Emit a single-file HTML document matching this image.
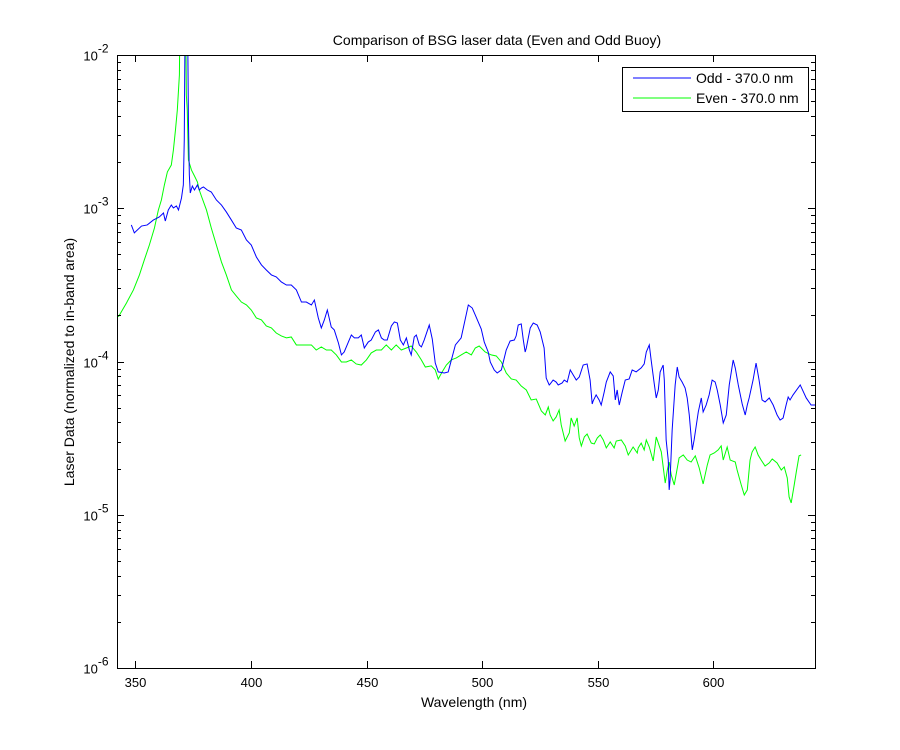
<!DOCTYPE html>
<html><head><meta charset="utf-8"><style>
html,body{margin:0;padding:0;background:#fff;}
svg{display:block;font-family:"Liberation Sans",Arial,sans-serif;}
</style></head><body>
<svg id="chart" width="900" height="750" viewBox="0 0 900 750" xmlns="http://www.w3.org/2000/svg">
<rect x="0" y="0" width="900" height="750" fill="#fff"/>
<text x="497" y="45" font-size="14" text-anchor="middle">Comparison of BSG laser data (Even and Odd Buoy)</text>
<text x="474" y="707" font-size="14" text-anchor="middle">Wavelength (nm)</text>
<text x="0" y="0" font-size="14" text-anchor="middle" transform="translate(74,362) rotate(-90)">Laser Data (normalized to in-band area)</text>
<defs><clipPath id="plotclip"><rect x="117" y="55" width="698" height="613"/></clipPath></defs>
<g id="series" clip-path="url(#plotclip)"></g>
<g id="axes"></g>
<g>
<rect x="622.5" y="67.5" width="186" height="44" fill="#fff" stroke="#000" stroke-width="1"/>
<line x1="633" y1="78" x2="691" y2="78" stroke="#0000ff" stroke-width="1"/>
<text x="696" y="83" font-size="14">Odd - 370.0 nm</text>
<line x1="633" y1="98" x2="691" y2="98" stroke="#00ff00" stroke-width="1"/>
<text x="696" y="103" font-size="14">Even - 370.0 nm</text>
</g>
</svg>
<script>
const xTicks = [350, 400, 450, 500, 550, 600];
const yDecades = [-6, -5, -4, -3, -2];
const oddWavelength = [348.2,349.5,352.6,355.1,357.7,360.3,362.1,362.9,364.2,365.5,366.4,367.7,368.6,369.9,370.7,371.1,371.6,372.4,372.9,373.3,373.7,374.6,375.5,376.8,377.6,378.5,379.4,381.1,382.8,385.0,387.2,389.3,391.5,393.6,395.8,398.0,400.1,402.3,404.5,406.6,408.8,410.9,413.1,415.3,417.4,419.6,421.8,423.9,426.1,427.4,429.1,430.4,431.7,433.0,434.7,436.0,437.8,439.1,440.3,442.1,443.4,444.7,446.4,447.7,449.0,450.7,452.0,453.8,455.1,456.4,457.6,458.9,460.7,462.0,463.3,464.6,465.9,467.2,468.5,469.3,470.6,471.5,472.8,473.7,474.9,477.1,478.4,479.7,481.0,483.6,485.3,488.4,490.9,494.0,495.7,497.0,499.6,500.9,502.6,503.5,505.2,506.5,508.3,510.4,512.1,513.9,514.7,515.6,516.9,517.8,518.6,519.1,520.8,522.1,523.8,525.1,526.8,527.7,529.0,529.4,530.7,532.0,532.9,534.6,535.5,536.8,538.1,539.4,540.7,542.0,543.7,545.4,546.7,547.6,548.0,549.3,550.6,551.5,552.8,553.7,555.4,556.7,557.6,558.4,559.3,560.6,561.9,563.6,564.9,566.6,568.8,570.1,571.0,572.3,573.1,574.4,575.3,576.2,577.0,578.3,578.8,579.6,580.5,580.9,581.3,582.2,583.5,584.4,585.2,586.5,587.8,588.7,589.6,590.9,591.7,593.5,594.8,595.6,596.9,598.2,599.5,600.8,601.7,603.0,604.3,605.6,606.9,608.6,609.5,610.8,612.5,613.8,614.7,615.5,617.2,618.5,619.8,621.1,622.4,624.2,625.9,627.6,628.9,630.2,631.5,632.4,633.2,634.5,637.6,640.2,642.3,644.5];
const oddLog10Value = [-3.109,-3.161,-3.116,-3.109,-3.077,-3.057,-3.031,-3.083,-3.011,-2.979,-2.998,-2.985,-3.011,-2.933,-2.848,-2.555,-1.5,-1.5,-2.424,-2.783,-2.900,-2.855,-2.881,-2.848,-2.881,-2.868,-2.861,-2.881,-2.894,-2.946,-2.979,-3.024,-3.077,-3.129,-3.142,-3.207,-3.240,-3.318,-3.370,-3.403,-3.435,-3.448,-3.481,-3.501,-3.501,-3.533,-3.612,-3.612,-3.631,-3.599,-3.716,-3.781,-3.729,-3.664,-3.775,-3.794,-3.879,-3.957,-3.938,-3.873,-3.827,-3.846,-3.846,-3.827,-3.912,-3.873,-3.860,-3.807,-3.794,-3.846,-3.860,-3.860,-3.768,-3.742,-3.749,-3.860,-3.892,-3.846,-3.925,-3.957,-3.840,-3.827,-3.892,-3.905,-3.860,-3.762,-3.853,-4.010,-4.068,-4.075,-4.068,-3.892,-3.846,-3.631,-3.651,-3.696,-3.788,-3.873,-3.938,-4.003,-4.055,-4.075,-4.055,-3.925,-3.866,-3.860,-3.833,-3.762,-3.755,-3.860,-3.938,-3.912,-3.781,-3.749,-3.762,-3.807,-3.912,-4.108,-4.153,-4.147,-4.121,-4.134,-4.153,-4.140,-4.121,-4.134,-4.055,-4.088,-4.121,-4.101,-4.023,-4.016,-4.121,-4.277,-4.258,-4.218,-4.251,-4.284,-4.199,-4.134,-4.068,-4.094,-4.251,-4.186,-4.284,-4.199,-4.121,-4.114,-4.055,-4.068,-4.042,-4.016,-3.938,-3.892,-3.990,-4.140,-4.238,-4.186,-4.068,-4.023,-4.121,-4.512,-4.643,-4.838,-4.773,-4.447,-4.153,-4.036,-4.101,-4.134,-4.173,-4.238,-4.349,-4.577,-4.512,-4.329,-4.238,-4.329,-4.284,-4.218,-4.121,-4.134,-4.186,-4.284,-4.401,-4.349,-4.153,-3.990,-4.042,-4.153,-4.277,-4.349,-4.284,-4.238,-4.121,-4.010,-4.121,-4.251,-4.264,-4.238,-4.284,-4.349,-4.382,-4.369,-4.284,-4.232,-4.251,-4.218,-4.153,-4.238,-4.284,-4.284];
const evenWavelength = [342.6,346.1,349.1,351.7,353.8,356.0,358.2,359.9,361.2,362.5,363.8,365.5,366.4,367.3,368.1,369.0,369.4,371.6,372.0,372.4,372.9,374.2,375.5,376.8,377.6,378.5,380.7,382.8,385.0,387.2,389.3,391.5,393.6,395.8,398.0,400.1,402.3,404.5,406.6,408.8,410.9,413.1,415.3,417.4,419.6,421.8,423.9,426.1,428.2,430.4,432.6,434.7,436.9,439.1,441.2,443.4,445.5,447.7,449.9,452.0,454.2,456.4,458.5,460.7,462.8,465.0,467.2,469.3,471.5,473.7,475.4,478.0,479.7,481.0,482.7,484.5,486.6,488.8,490.9,493.1,495.3,497.0,498.7,501.3,503.9,506.1,508.3,510.4,512.6,514.7,516.9,519.1,521.2,523.4,525.6,527.3,528.6,529.4,530.7,532.0,533.3,534.2,535.9,537.7,538.5,539.8,541.1,542.0,542.9,544.2,545.4,547.2,548.5,549.8,551.1,552.4,553.7,555.4,557.1,558.0,560.2,561.9,563.2,565.3,567.1,567.5,568.8,570.1,571.0,572.3,574.0,575.3,576.2,577.5,579.2,580.1,580.9,581.8,583.1,585.2,587.0,588.7,590.4,592.2,593.9,595.6,597.4,598.6,600.4,602.1,603.4,604.3,606.0,607.3,609.5,610.3,612.1,613.4,614.7,615.9,616.8,618.1,619.4,620.7,622.4,624.2,625.5,627.6,629.4,630.7,632.0,632.8,633.7,635.0,635.9,637.1,638.0];
const evenLog10Value = [-3.709,-3.618,-3.533,-3.435,-3.338,-3.240,-3.129,-3.011,-2.946,-2.848,-2.763,-2.718,-2.620,-2.489,-2.359,-2.130,-1.5,-1.5,-2.261,-2.359,-2.685,-2.750,-2.789,-2.829,-2.881,-2.920,-3.011,-3.129,-3.240,-3.351,-3.435,-3.533,-3.572,-3.612,-3.631,-3.664,-3.716,-3.729,-3.768,-3.781,-3.814,-3.833,-3.846,-3.840,-3.892,-3.892,-3.892,-3.892,-3.925,-3.905,-3.925,-3.925,-3.957,-4.003,-4.003,-3.990,-4.016,-4.023,-3.990,-3.944,-3.925,-3.925,-3.892,-3.925,-3.892,-3.925,-3.912,-3.899,-3.938,-3.990,-4.036,-4.029,-4.055,-4.114,-4.068,-4.023,-3.990,-3.977,-3.957,-3.938,-3.957,-3.912,-3.899,-3.938,-3.957,-3.964,-4.003,-4.075,-4.114,-4.121,-4.160,-4.186,-4.251,-4.245,-4.323,-4.349,-4.297,-4.349,-4.388,-4.362,-4.316,-4.414,-4.519,-4.466,-4.368,-4.421,-4.368,-4.499,-4.551,-4.492,-4.473,-4.532,-4.538,-4.499,-4.479,-4.512,-4.564,-4.525,-4.564,-4.519,-4.512,-4.551,-4.610,-4.558,-4.597,-4.564,-4.532,-4.577,-4.512,-4.558,-4.649,-4.492,-4.532,-4.590,-4.793,-4.708,-4.656,-4.740,-4.806,-4.629,-4.610,-4.643,-4.656,-4.616,-4.695,-4.799,-4.675,-4.610,-4.597,-4.577,-4.551,-4.643,-4.558,-4.643,-4.656,-4.708,-4.806,-4.871,-4.838,-4.643,-4.590,-4.558,-4.610,-4.643,-4.682,-4.662,-4.636,-4.662,-4.708,-4.688,-4.760,-4.884,-4.923,-4.806,-4.721,-4.616,-4.610];

const NS = "http://www.w3.org/2000/svg";
const PL = 117, PR = 815, PT = 55, PB = 668;
const XMIN = 342.0, XMAX = 644.0, YMINLOG = -6, YMAXLOG = -2;
function xScale(w){ return PL + (w - XMIN) / (XMAX - XMIN) * (PR - PL); }
function yScale(v){ const l = Math.log10(v); return PB - (l - YMINLOG) / (YMAXLOG - YMINLOG) * (PB - PT); }
function mk(tag, attrs){ const e = document.createElementNS(NS, tag); for (const k in attrs) e.setAttribute(k, attrs[k]); return e; }

const series = document.getElementById('series');
function drawLine(ws, logs, color, name){
  let d = '';
  for (let i = 0; i < ws.length; i++){
    const v = Math.pow(10, logs[i]);
    d += (i ? 'L' : 'M') + xScale(ws[i]).toFixed(2) + ',' + yScale(v).toFixed(2);
  }
  const p = mk('path', {d: d, fill: 'none', stroke: color, 'stroke-width': 1});
  
  
  series.appendChild(p);
}
drawLine(evenWavelength, evenLog10Value, '#00ff00', 'even-series-line');
drawLine(oddWavelength, oddLog10Value, '#0000ff', 'odd-series-line');

const axes = document.getElementById('axes');
const frame = mk('rect', {x: PL + 0.5, y: PT + 0.5, width: PR - PL, height: PB - PT, fill: 'none', stroke: '#000', 'stroke-width': 1});


axes.appendChild(frame);

xTicks.forEach(function(t){
  const x = Math.round(xScale(t)) + 0.5;
  const tb = mk('line', {x1: x, y1: PB, x2: x, y2: PB - 7, stroke: '#000'});
  
  
  axes.appendChild(tb);
  const tt = mk('line', {x1: x, y1: PT, x2: x, y2: PT + 7, stroke: '#000'});
  
  
  axes.appendChild(tt);
  const lab = mk('text', {x: x, y: PB + 19, 'font-size': 13, 'text-anchor': 'middle'});
  lab.textContent = String(t);
  
  
  axes.appendChild(lab);
});

yDecades.forEach(function(dExp, idx){
  const y = Math.round(yScale(Math.pow(10, dExp))) + 0.5;
  [[PL, PL + 7], [PR, PR - 7]].forEach(function(pair){
    const tk = mk('line', {x1: pair[0], y1: y, x2: pair[1], y2: y, stroke: '#000'});
    
    
    axes.appendChild(tk);
  });
  const lab = mk('text', {x: 96, y: y + 5, 'font-size': 13, 'text-anchor': 'middle'});
  
  
  const base = mk('tspan', {});
  base.textContent = '10';
  const sup = mk('tspan', {dy: -8, 'font-size': 12});
  sup.textContent = String(dExp);
  lab.appendChild(base); lab.appendChild(sup);
  axes.appendChild(lab);
  if (idx < yDecades.length - 1){
    for (let m = 2; m <= 9; m++){
      const ym = Math.round(yScale(m * Math.pow(10, dExp))) + 0.5;
      [[PL, PL + 4], [PR, PR - 4]].forEach(function(pair){
        const mt = mk('line', {x1: pair[0], y1: ym, x2: pair[1], y2: ym, stroke: '#000'});
        
        
        axes.appendChild(mt);
      });
    }
  }
});
</script>
</body></html>
